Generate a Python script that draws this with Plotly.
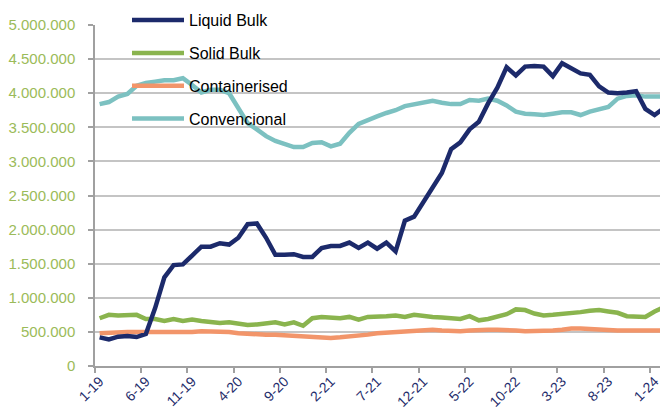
import plotly.graph_objects as go

months = [f"{m}-{y}" for y in range(19, 25) for m in range(1, 13)][:62]

liquid_bulk = [420, 390, 430, 440, 425, 470, 850, 1300, 1480, 1490,
               1620, 1750, 1750, 1800, 1780, 1880, 2080, 2090, 1880, 1630,
               1630, 1640, 1600, 1600, 1730, 1760, 1760, 1810, 1730, 1810,
               1720, 1810, 1680, 2130, 2190, 2400, 2620, 2830, 3180, 3280,
               3470, 3580, 3850, 4080, 4380, 4260, 4390, 4400, 4390, 4250,
               4440, 4370, 4290, 4270, 4100, 4010, 4000, 4010, 4030, 3770,
               3680, 3780]
solid_bulk = [700, 750, 740, 740, 750, 690, 690, 660, 690, 660,
              680, 660, 650, 630, 640, 620, 600, 610, 630, 640,
              610, 640, 590, 700, 720, 710, 700, 720, 680, 720,
              720, 730, 740, 720, 750, 730, 720, 710, 700, 690,
              730, 670, 690, 720, 760, 830, 820, 770, 740, 750,
              760, 770, 790, 810, 820, 800, 780, 730, 730, 720,
              800, 860]
containerised = [480, 490, 500, 500, 500, 500, 500, 490, 490, 490,
                 500, 510, 510, 510, 500, 480, 470, 460, 460, 460,
                 450, 440, 430, 420, 410, 410, 420, 430, 440, 460,
                 480, 490, 500, 510, 520, 530, 530, 520, 510, 510,
                 520, 530, 530, 530, 530, 520, 510, 510, 510, 520,
                 530, 550, 550, 540, 530, 520, 520, 520, 520, 520,
                 520, 520]
convencional = [3840, 3870, 3950, 3990, 4110, 4150, 4170, 4190, 4190, 4220,
                4120, 4010, 4050, 4050, 4000, 3770, 3560, 3470, 3370, 3300,
                3250, 3210, 3210, 3270, 3280, 3220, 3260, 3420, 3550, 3610,
                3660, 3710, 3750, 3810, 3840, 3870, 3890, 3860, 3840, 3840,
                3900, 3890, 3920, 3890, 3820, 3730, 3700, 3690, 3680, 3700,
                3720, 3720, 3680, 3730, 3760, 3800, 3920, 3960, 3970, 3950,
                3950, 3950]

series = [
    ("Liquid Bulk", liquid_bulk, "#1c2a6b"),
    ("Solid Bulk", solid_bulk, "#8ab44e"),
    ("Containerised", containerised, "#f2956a"),
    ("Convencional", convencional, "#7cc1c1"),
]

fig = go.Figure()
# draw order: back to front
order = [3, 2, 1, 0]
for idx in order:
    name, vals, col = series[idx]
    fig.add_trace(go.Scatter(
        x=months, y=[v * 1000 for v in vals], name=name, mode="lines",
        line=dict(color=col, width=4.5), legendrank=idx + 1,
        legendgroup=name,
    ))

fig.update_layout(
    width=668, height=414,
    margin=dict(l=87, r=8, t=17, b=56, autoexpand=False),
    paper_bgcolor="white", plot_bgcolor="white",
    separators=",.",
    font=dict(family="Liberation Sans, Arial, sans-serif"),
    showlegend=True,
    legend=dict(
        x=(132 - 95 - 5) / 573, y=1.064, xanchor="left", yanchor="top",
        bgcolor="rgba(0,0,0,0)", font=dict(size=16, color="black"),
        itemwidth=52, tracegroupgap=9, traceorder="grouped",
    ),
    xaxis=dict(
        type="category", range=[-0.5, 61.45],
        tickmode="linear", tick0=0, dtick=5, tickson="boundaries",
        ticks="outside", ticklen=5, tickcolor="#a0a0a0", tickwidth=1.5,
        showline=True, linecolor="#a0a0a0", linewidth=1.5,
        showgrid=False, tickangle=-45,
        tickfont=dict(size=14, color="#1f2d6b"),
    ),
    yaxis=dict(
        range=[0, 5000000], tickmode="linear", tick0=0, dtick=500000,
        tickformat=",d", ticks="outside", ticklen=5, tickcolor="#a0a0a0",
        tickwidth=1.5, showline=True, linecolor="#a0a0a0", linewidth=1.5,
        showgrid=True, gridcolor="#c4c4c4", gridwidth=1.5, zeroline=False,
        tickfont=dict(size=15, color="#9bbb59"), ticklabelstandoff=10,
    ),
)

fig.write_html("out.html")
